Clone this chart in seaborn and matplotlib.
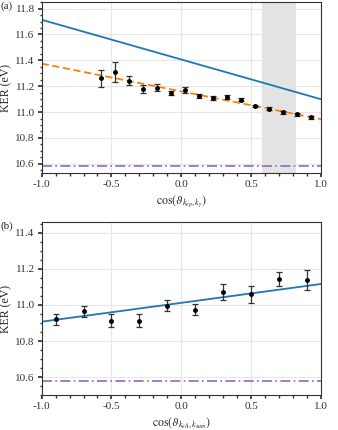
import numpy as np
import matplotlib
matplotlib.use("Agg")
import matplotlib.pyplot as plt
from matplotlib.ticker import MultipleLocator, AutoMinorLocator
import seaborn as sns

# --- panel (a) data ---
cos_a = [-0.575, -0.475, -0.375, -0.275, -0.175, -0.075, 0.025, 0.125,
         0.225, 0.325, 0.425, 0.525, 0.625, 0.725, 0.825, 0.925]
ker_a = [11.262, 11.309, 11.244, 11.179, 11.190, 11.148, 11.171, 11.125,
         11.109, 11.117, 11.096, 11.047, 11.026, 10.997, 10.982, 10.961]
err_a = [0.067, 0.080, 0.033, 0.030, 0.025, 0.015, 0.020, 0.015,
         0.012, 0.015, 0.012, 0.010, 0.012, 0.010, 0.012, 0.012]
# linear curves: (value at cos=-1, value at cos=+1)
fit_a = [11.375, 10.945]
model_a = [11.714, 11.099]
span_a = [0.575, 0.82]

# --- panel (b) data ---
cos_b = [-0.9, -0.7, -0.5, -0.3, -0.1, 0.1, 0.3, 0.5, 0.7, 0.9]
ker_b = [10.920, 10.965, 10.913, 10.913, 10.995, 10.973, 11.073, 11.058, 11.145, 11.136]
err_b = [0.030, 0.031, 0.037, 0.037, 0.030, 0.030, 0.045, 0.045, 0.040, 0.055]
fit_b = [10.907, 11.116]

threshold = 10.58

sns.set_theme(style="whitegrid")
plt.rcParams['font.family'] = ['Liberation Serif', 'DejaVu Serif']
plt.rcParams['mathtext.fontset'] = 'stix'
plt.rcParams.update({
    'axes.edgecolor': '#333333', 'axes.linewidth': 0.8,
    'grid.color': '#e6e6e6', 'grid.linewidth': 0.8,
    'xtick.bottom': True, 'ytick.left': True,
    'xtick.direction': 'out', 'ytick.direction': 'out',
    'xtick.major.size': 3, 'ytick.major.size': 3,
    'xtick.minor.size': 1.8, 'ytick.minor.size': 1.8,
    'xtick.major.pad': 2, 'ytick.major.pad': 2,
    'xtick.minor.visible': True, 'ytick.minor.visible': True,
    'xtick.color': '#333333', 'ytick.color': '#333333',
    'xtick.labelsize': 8, 'ytick.labelsize': 8, 'axes.labelsize': 8.5,
})

fig = plt.figure(figsize=(3.38, 4.30), dpi=100)
ax1 = fig.add_axes([0.123, 0.598, 0.827, 0.397])
ax2 = fig.add_axes([0.123, 0.081, 0.827, 0.403])

xs = np.array([-1.0, 1.0])
blue = '#1f77b4'
orange = '#ff7f0e'
purple = '#9467bd'

# panel (a)
ax1.axvspan(span_a[0], span_a[1], color='#dcdcdc', alpha=0.8, lw=0, zorder=0)
sns.lineplot(x=xs, y=model_a, ax=ax1, color=blue, lw=1.3)
sns.lineplot(x=xs, y=fit_a, ax=ax1, color=orange, lw=1.3, linestyle=(0, (4, 2)))
ax1.axhline(threshold, color=purple, lw=1.2, linestyle=(0, (6, 2, 1, 2)))
ax1.errorbar(cos_a, ker_a, yerr=err_a, fmt='o', ms=2.5, color='black',
             ecolor='#333333', elinewidth=0.9, capsize=2, capthick=0.9, zorder=5)
ax1.set_xlim(-1, 1)
ax1.set_ylim(10.53, 11.85)
ax1.set_ylabel('KER (eV)', labelpad=2)
ax1.set_xlabel(r'$\cos(\vartheta_{k_{ep},k_\gamma})$', labelpad=3)
ax1.yaxis.set_major_locator(MultipleLocator(0.2))
ax1.yaxis.set_minor_locator(AutoMinorLocator(4))

# panel (b)
sns.lineplot(x=xs, y=fit_b, ax=ax2, color=blue, lw=1.3)
ax2.axhline(threshold, color=purple, lw=1.2, linestyle=(0, (6, 2, 1, 2)))
ax2.errorbar(cos_b, ker_b, yerr=err_b, fmt='o', ms=2.5, color='black',
             ecolor='#333333', elinewidth=0.9, capsize=2, capthick=0.9, zorder=5)
ax2.set_xlim(-1, 1)
ax2.set_ylim(10.5, 11.46)
ax2.set_ylabel('KER (eV)', labelpad=2)
ax2.set_xlabel(r'$\cos(\vartheta_{k_{eA},k_{sum}})$', labelpad=3)
ax2.yaxis.set_major_locator(MultipleLocator(0.2))
ax2.yaxis.set_minor_locator(AutoMinorLocator(4))

for ax in (ax1, ax2):
    ax.xaxis.set_major_locator(MultipleLocator(0.5))
    ax.xaxis.set_minor_locator(MultipleLocator(0.1))
    ax.grid(True, which='major')
    ax.grid(False, which='minor')
    ax.xaxis.set_major_formatter(plt.FuncFormatter(lambda v, p: f"{v:.1f}"))
    ax.yaxis.set_major_formatter(plt.FuncFormatter(lambda v, p: f"{v:.1f}"))

fig.text(0.002, 0.985, '(a)', fontsize=8, va='center', ha='left')
fig.text(0.002, 0.473, '(b)', fontsize=8, va='center', ha='left')

fig.savefig('out.png', dpi=100)
